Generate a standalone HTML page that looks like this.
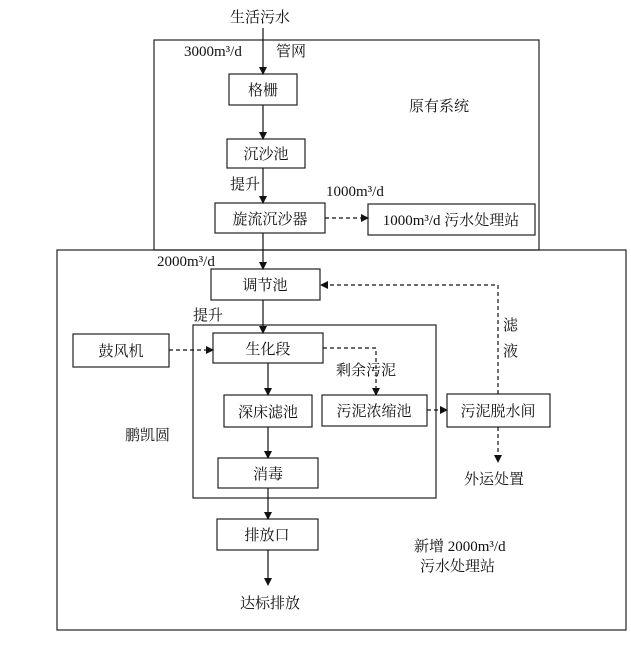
<!DOCTYPE html>
<html><head><meta charset="utf-8"><style>
html,body{margin:0;padding:0;background:#fff;}
svg text{font-family:"Liberation Serif","Noto Serif CJK SC",serif;font-size:15px;fill:#111;}
</style></head><body>
<svg width="631" height="662" viewBox="0 0 631 662" xmlns="http://www.w3.org/2000/svg">
<defs>
<marker id="a" markerWidth="8" markerHeight="8" refX="7" refY="4" orient="auto" markerUnits="userSpaceOnUse"><path d="M0,0 L8,4 L0,8 z" fill="#111"/></marker>
</defs>
<g fill="none" stroke="#222" stroke-width="1.2">
<rect x="154" y="40" width="385" height="210"/>
<rect x="57" y="250" width="569" height="380"/>
<rect x="193" y="325" width="243" height="173"/>
<rect x="229" y="74" width="68" height="31"/>
<rect x="227" y="139" width="78" height="29"/>
<rect x="215" y="203" width="110" height="30"/>
<rect x="368" y="204" width="167" height="31"/>
<rect x="211" y="269" width="109" height="31"/>
<rect x="73" y="334" width="96" height="33"/>
<rect x="213" y="333" width="110" height="30"/>
<rect x="224" y="395" width="88" height="32"/>
<rect x="322" y="395" width="105" height="31"/>
<rect x="447" y="394" width="103" height="33"/>
<rect x="218" y="458" width="100" height="30"/>
<rect x="217" y="519" width="101" height="31"/>
</g>
<g stroke="#111" stroke-width="1.2" fill="none" marker-end="url(#a)">
<line x1="263" y1="28" x2="263" y2="74"/>
<line x1="263" y1="105" x2="263" y2="139"/>
<line x1="263" y1="168" x2="263" y2="203"/>
<line x1="263" y1="233" x2="263" y2="269"/>
<line x1="263" y1="300" x2="263" y2="333"/>
<line x1="268" y1="363" x2="268" y2="395"/>
<line x1="268" y1="427" x2="268" y2="458"/>
<line x1="268" y1="488" x2="268" y2="519"/>
<line x1="268" y1="550" x2="268" y2="585"/>
</g>
<g stroke="#111" stroke-width="1.2" fill="none" stroke-dasharray="4,3" marker-end="url(#a)">
<line x1="325" y1="218" x2="368" y2="218"/>
<line x1="169" y1="350" x2="213" y2="350"/>
<polyline points="323,348 376,348 376,395"/>
<line x1="427" y1="410" x2="447" y2="410"/>
<polyline points="498,394 498,285 321,285"/>
<line x1="498" y1="427" x2="498" y2="462"/>
</g>
<text x="230" y="22">生活污水</text>
<text x="184" y="56">3000m³/d</text>
<text x="276" y="56">管网</text>
<text x="263" y="95" text-anchor="middle">格栅</text>
<text x="409" y="111">原有系统</text>
<text x="266" y="159" text-anchor="middle">沉沙池</text>
<text x="230" y="189">提升</text>
<text x="326" y="196">1000m³/d</text>
<text x="270" y="224" text-anchor="middle">旋流沉沙器</text>
<text x="451" y="225" text-anchor="middle">1000m³/d 污水处理站</text>
<text x="157" y="266">2000m³/d</text>
<text x="265" y="290" text-anchor="middle">调节池</text>
<text x="193" y="320">提升</text>
<text x="503" y="330">滤</text>
<text x="503" y="356">液</text>
<text x="121" y="356" text-anchor="middle">鼓风机</text>
<text x="268" y="354" text-anchor="middle">生化段</text>
<text x="336" y="375">剩余污泥</text>
<text x="268" y="417" text-anchor="middle">深床滤池</text>
<text x="374" y="416" text-anchor="middle">污泥浓缩池</text>
<text x="498" y="416" text-anchor="middle">污泥脱水间</text>
<text x="125" y="440">鹏凯圆</text>
<text x="268" y="479" text-anchor="middle">消毒</text>
<text x="464" y="484">外运处置</text>
<text x="267" y="540" text-anchor="middle">排放口</text>
<text x="414" y="551">新增 2000m³/d</text>
<text x="420" y="571">污水处理站</text>
<text x="240" y="608">达标排放</text>
</svg>
</body></html>
